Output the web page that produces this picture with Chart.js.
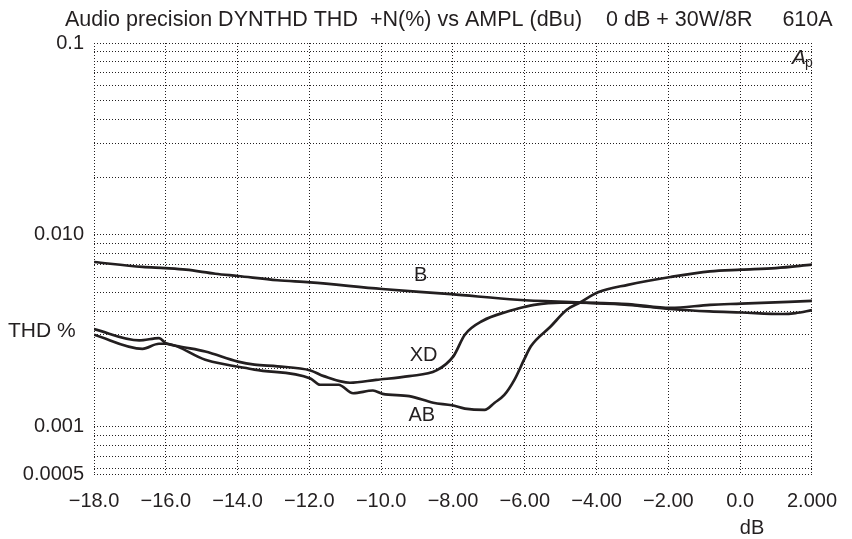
<!DOCTYPE html>
<html><head><meta charset="utf-8">
<script src="https://cdn.jsdelivr.net/npm/chart.js@4"></script>
<style>html,body{margin:0;padding:0;background:#fff}</style>
</head><body>
<canvas id="c" width="852" height="539"></canvas>
<script>
// ---- data (amplitude in dB, THD+N in %) ----
const bDb  = [-18.0,-16.65,-16.02,-15.44,-14.62,-13.99,-12.89,-11.98,-9.97,-8.05,-6.21,-4.45,-3.13,-1.95,-0.85,0.03,1.18,1.54,2.0];
const bThd = [0.00721,0.00679,0.00669,0.00657,0.00626,0.00609,0.00579,0.00564,0.00521,0.0049,0.00458,0.00443,0.00431,0.0041,0.00398,0.00393,0.00386,0.0039,0.00404];

const xdDb  = [-18.0,-16.74,-16.19,-16.0,-15.64,-14.9,-13.99,-13.53,-12.89,-11.97,-11.6,-10.87,-10.14,-9.22,-8.46,-7.99,-7.67,-7.17,-6.48,-6.02,-5.74,-5.01,-4.46,-3.13,-1.94,-0.84,0.03,2.0];
const xdThd = [0.00322,0.00281,0.00289,0.00272,0.00262,0.00246,0.00218,0.0021,0.00206,0.00196,0.00183,0.00169,0.00175,0.00183,0.00196,0.00232,0.00301,0.00356,0.00398,0.0042,0.00431,0.00443,0.00443,0.00435,0.00415,0.00431,0.00437,0.00452];

const abDb  = [-18.0,-16.65,-16.19,-16.0,-14.9,-13.53,-11.97,-11.7,-11.19,-10.78,-10.23,-9.96,-9.22,-8.55,-8.03,-7.67,-7.12,-6.84,-6.57,-6.29,-6.02,-5.83,-5.28,-4.83,-4.46,-3.96,-3.13,-1.94,-0.84,0.03,0.99,2.0];
const abThd = [0.00301,0.00254,0.0027,0.0027,0.00223,0.00198,0.00178,0.00165,0.00165,0.00149,0.00154,0.00148,0.00144,0.00133,0.00129,0.00124,0.00122,0.00133,0.00146,0.00175,0.00223,0.00262,0.00332,0.00406,0.00443,0.00501,0.00548,0.00602,0.00644,0.00657,0.0067,0.00698];

// axes
const xMin = -18, xMax = 2, xStep = 2;
const xTickTexts = ['\u221218.0','\u221216.0','\u221214.0','\u221212.0','\u221210.0','\u22128.00','\u22126.00','\u22124.00','\u22122.00','0.0','2.000'];
const yMin = 0.000565, yMax = 0.1;
const yGridValues = [0.000565,0.0006,0.0007,0.0008,0.0009,0.001,0.002,0.003,0.004,0.005,0.006,0.007,0.008,0.009,0.01,0.02,0.03,0.04,0.05,0.06,0.07,0.08,0.09,0.1];
const yTickValues = [0.000565,0.001,0.01,0.1];
const yTickTexts  = ['0.0005','0.001','0.010','0.1'];

// labels
const seriesNames = ['B','XD','AB'];
const labelPos = [[-8.9,0.00611],[-8.82,0.00234],[-8.87,0.00114]];
const titleText = 'Audio precision DYNTHD THD  +N(%) vs AMPL (dBu)    0 dB + 30W/8R     610A';
const yTitle = 'THD %';
const xTitle = 'dB';

const INK = '#231f20';
const FONT = '"Liberation Sans", Arial, Helvetica, sans-serif';

function pts(xs, ys){ return xs.map((x,i)=>({x, y: ys[i]})); }
const ds = (name, xs, ys) => ({label:name, data:pts(xs,ys), borderColor:INK, borderWidth:2.7,
  pointRadius:0, fill:false, cubicInterpolationMode:'monotone'});

const textPlugin = {
  id:'texts',
  afterDraw(chart){
    const ctx = chart.ctx, xs = chart.scales.x, ys = chart.scales.y;
    ctx.save();
    ctx.fillStyle = INK;
    // title fitted between x=65 and x=833
    ctx.font = '20px ' + FONT;
    const w20 = ctx.measureText(titleText).width;
    const fs = Math.min(24, 20 * 768 / w20);
    ctx.font = fs.toFixed(2) + 'px ' + FONT;
    ctx.textBaseline = 'alphabetic';
    ctx.textAlign = 'left';
    ctx.fillText(titleText, 65, 26);
    // series labels
    ctx.textAlign = 'center';
    ctx.textBaseline = 'middle';
    ctx.font = '20px ' + FONT;
    seriesNames.forEach((n,i)=>{
      ctx.fillText(n, xs.getPixelForValue(labelPos[i][0]), ys.getPixelForValue(labelPos[i][1]));
    });
    // axis titles
    ctx.font = '21px ' + FONT;
    ctx.textAlign = 'left';
    ctx.fillText(yTitle, 8, 331);
    ctx.font = '20px ' + FONT;
    ctx.textAlign = 'center';
    ctx.fillText(xTitle, 752, 528);
    // A_p mark
    ctx.textAlign = 'left';
    ctx.textBaseline = 'alphabetic';
    ctx.font = 'italic 21px ' + FONT;
    ctx.fillText('A', 792, 64);
    ctx.font = '14px ' + FONT;
    ctx.fillText('p', 805, 67);
    ctx.restore();
  }
};

new Chart(document.getElementById('c'), {
  type:'line',
  data:{ datasets:[ ds(seriesNames[0], bDb, bThd), ds(seriesNames[1], xdDb, xdThd), ds(seriesNames[2], abDb, abThd) ] },
  options:{
    responsive:false, animation:false, devicePixelRatio:1,
    layout:{ padding:{ top:43, right:30, left:0, bottom:0 } },
    plugins:{ legend:{display:false}, tooltip:{enabled:false}, title:{display:false} },
    scales:{
      x:{ type:'linear', min:xMin, max:xMax,
        afterFit(s){ s.height = 65; },
        afterBuildTicks(s){ const t=[]; for(let v=xMin; v<=xMax+1e-9; v+=xStep) t.push({value:v}); s.ticks=t; },
        ticks:{ autoSkip:false, maxRotation:0, padding:15, color:INK, font:{family:FONT, size:20},
          callback:(v,i)=> xTickTexts[i] },
        grid:{ drawTicks:false, color:INK, lineWidth:1 },
        border:{ display:false, dash:[1,2] }
      },
      y:{ type:'logarithmic', min:yMin, max:yMax,
        afterFit(s){ s.width = 94; },
        afterBuildTicks(s){ s.ticks = yGridValues.map(v=>({value:v})); },
        ticks:{ autoSkip:false, padding:10, color:INK, font:{family:FONT, size:20},
          callback:(v)=>{ const k=yTickValues.findIndex(t=>Math.abs(t-v)/t<1e-6); return k>=0?yTickTexts[k]:''; } },
        grid:{ drawTicks:false, color:INK, lineWidth:1 },
        border:{ display:false, dash:[1,2] }
      }
    }
  },
  plugins:[textPlugin]
});
</script>
</body></html>
